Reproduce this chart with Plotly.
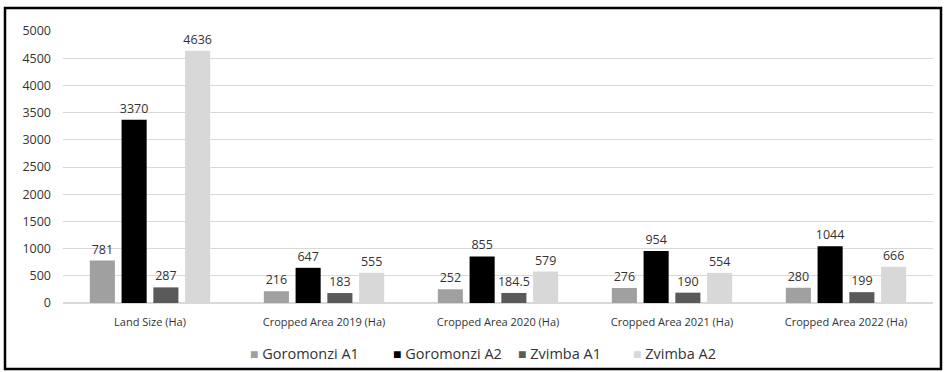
import plotly.graph_objects as go

categories = ["Land Size (Ha)", "Cropped Area 2019 (Ha)", "Cropped Area 2020 (Ha)",
              "Cropped Area 2021 (Ha)", "Cropped Area 2022 (Ha)"]
goromonzi_a1 = [781, 216, 252, 276, 280]
goromonzi_a2 = [3370, 647, 855, 954, 1044]
zvimba_a1 = [287, 183, 184.5, 190, 199]
zvimba_a2 = [4636, 555, 579, 554, 666]
y_ticks = [0, 500, 1000, 1500, 2000, 2500, 3000, 3500, 4000, 4500, 5000]

series_names = ["Goromonzi A1", "Goromonzi A2", "Zvimba A1", "Zvimba A2"]
series_values = [goromonzi_a1, goromonzi_a2, zvimba_a1, zvimba_a2]
series_colors = ["#a0a0a0", "#000000", "#5a5a5a", "#d8d8d8"]

FONT = "Open Sans"
TEXT = "#333333"

# plot area: 63..933 px horizontally, 31..303 px vertically
L, R, T, B = 63, 14, 31, 69
PW, PH = 947 - L - R, 372 - T - B


def px_x(px):
    return (px - L) / PW


def px_y(py):
    return (372 - B - py) / PH


fig = go.Figure()
for name, vals, color in zip(series_names, series_values, series_colors):
    fig.add_trace(go.Bar(
        name=name, x=categories, y=vals,
        marker=dict(color=color, line=dict(width=0)),
        text=[f"{v:g}" for v in vals], textposition="outside",
        textfont=dict(family=FONT, size=12.5, color=TEXT),
        constraintext="none", cliponaxis=False, showlegend=False,
    ))

# legend row: coloured square followed by the series name
legend_left_px = [248, 391, 516, 631]
annotations = []
for name, color, lx in zip(series_names, series_colors, legend_left_px):
    annotations.append(dict(
        xref="paper", yref="paper", x=px_x(lx), y=px_y(353),
        xanchor="left", yanchor="middle", showarrow=False,
        text=f"<span style='color:{color};font-size:14px'>■</span>\u00a0{name}",
        font=dict(family=FONT, size=14.5, color=TEXT),
    ))

fig.update_layout(
    width=947, height=372,
    margin=dict(l=L, r=R, t=T, b=B, autoexpand=False),
    paper_bgcolor="white", plot_bgcolor="white",
    barmode="group", bargap=0.27, bargroupgap=0.21,
    font=dict(family=FONT, color=TEXT),
    showlegend=False,
    xaxis=dict(showgrid=False, showline=False, ticks="outside", ticklen=9,
               tickcolor="rgba(0,0,0,0)", automargin=False,
               tickfont=dict(family=FONT, size=11, color=TEXT)),
    yaxis=dict(range=[0, 5000], tickvals=y_ticks, showgrid=True, gridcolor="#d9d9d9",
               gridwidth=1, zeroline=True, zerolinecolor="#d9d9d9", showline=False,
               ticks="", ticklabelstandoff=11, automargin=False,
               tickfont=dict(family=FONT, size=12.5, color=TEXT)),
    annotations=annotations,
    shapes=[dict(type="rect", xref="paper", yref="paper",
                 x0=px_x(5), x1=px_x(941), y0=px_y(369), y1=px_y(8),
                 line=dict(color="black", width=2.5), fillcolor="rgba(0,0,0,0)")],
)

fig.write_html("out.html")
